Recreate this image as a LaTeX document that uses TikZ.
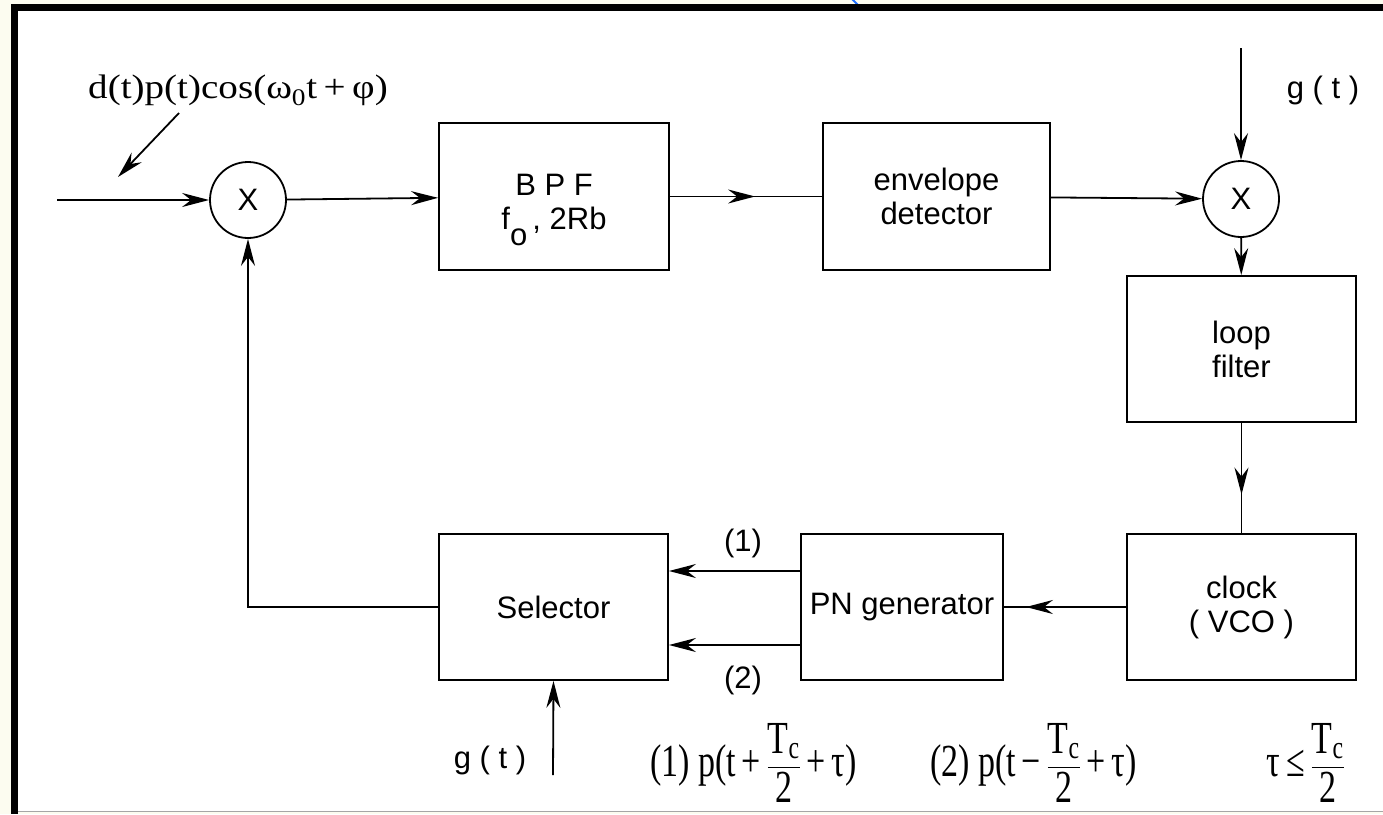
\documentclass[tikz,border=0pt]{standalone}
\usepackage{fontspec}
\usepackage{amsmath}
\setmainfont{Liberation Serif}
\newfontfamily\arialf{Liberation Sans}
\usetikzlibrary{arrows.meta,calc}
\definecolor{cream}{HTML}{FCFCF0}
\definecolor{markblue}{HTML}{1E6EFF}
\newcommand\tfr[2]{$\dfrac{\text{#1}}{\text{#2}}$}
\begin{document}
\begin{tikzpicture}[x=1pt,y=-1pt,
  ln/.style={line width=1.8pt},
  arr/.style={ln,-{Stealth[length=27pt,width=14pt,inset=9pt]}},
  blk/.style={draw,ln,inner sep=0pt,align=center,
    font=\arialf\fontsize{31}{34}\selectfont},
  mix/.style={draw,ln,circle,inner sep=0pt,minimum size=76pt,
    font=\arialf\fontsize{31}{34}\selectfont},
  lab/.style={inner sep=0pt,align=center,font=\arialf\fontsize{31}{34}\selectfont},
  tms/.style={inner sep=0pt,font=\fontsize{34}{40}\selectfont}]
% frame
\useasboundingbox (0,0) rectangle (1383,814);
\fill[cream] (0,0) rectangle (1383,814);
\fill[white] (18,11) rectangle (1383,811);
\draw[markblue,line width=2pt] (852,-1) -- (860,7);
\fill[black] (11,4) rectangle (1383,11);
\fill[black] (11,4) rectangle (18,814);
\draw[gray!70,line width=1.2pt] (18,811.5) -- (1383,811.5);
% nodes
\node[mix] (mix1) at (248,200) {X};
\node[mix] (mix2) at (1241,199) {X};
\node[blk,minimum width=230pt,minimum height=147pt] (bpf) at (554,196.5) {};
\node[lab] (bpft) at ([yshift=-7pt]bpf.center)
  {B P F\\ f\smash{\raisebox{-16pt}{o}}\,, 2Rb};
\node[blk,minimum width=227pt,minimum height=147pt] (env) at (936.5,196.5)
  {envelope\\detector};
\node[blk,minimum width=229pt,minimum height=146pt] (loop) at (1241.5,349)
  {loop\\filter};
\node[blk,minimum width=229pt,minimum height=146pt] (clock) at (1241.5,607)
  {clock\\( VCO )};
\node[blk,minimum width=202pt,minimum height=146pt] (pn) at (902,607)
  {PN generator};
\node[blk,minimum width=229pt,minimum height=146pt] (sel) at (553.5,607)
  {Selector};
% labels
\node[tms] (sig) at (238,90) {\scalebox{1.15}[1]{d(t)p(t)cos(ω\textsubscript{0}t\,+\,φ)}};
\node[lab] (g1) at (1323,90) {g ( t )};
\node[lab] (g2) at (490,760) {g ( t )};
\node[lab] (l1) at (743,543) {(1)};
\node[lab] (l2) at (743,680) {(2)};
\node[tms,anchor=west] (f1) at (650,763)
  {\scalebox{1}[1.35]{(1) p(t\,+\,\tfr{T\textsubscript{c}}{2}\,+\,τ)}};
\node[tms,anchor=west] (f2) at (930,763)
  {\scalebox{1}[1.35]{(2) p(t\,−\,\tfr{T\textsubscript{c}}{2}\,+\,τ)}};
\node[tms,anchor=east] (f3) at (1345,763)
  {\scalebox{1}[1.35]{τ\,≤\,\tfr{T\textsubscript{c}}{2}}};
% coordinates
\coordinate (in) at (57,200);
\coordinate (a1) at (179,113);
\coordinate (a2) at (118,177);
\coordinate (gtop) at (1241,48);
\coordinate (gbot) at (553,775);
% connectors
\draw[arr] (in) -- (mix1);
\draw[arr] (a1) -- (a2);
\draw[arr] (mix1) -- (bpf);
\draw[ln] (bpf.east) -- (env.west);
\draw[arr] (bpf.east) -- ($(bpf.east)!0.56!(env.west)$);
\draw[arr] (env) -- (mix2);
\draw[arr] (gtop) -- (mix2);
\draw[arr] (mix2) -- (loop);
\draw[ln] (loop.south) -- (clock.north);
\draw[arr] (loop.south) -- ($(loop.south)!0.65!(clock.north)$);
\draw[ln] (clock.west) -- (pn.east);
\draw[arr] (clock.west) -- ($(clock.west)!0.82!(pn.east)$);
\draw[arr] ($(pn.west)+(0,-36)$) -- ($(sel.east)+(0,-36)$);
\draw[arr] ($(pn.west)+(0,38)$) -- ($(sel.east)+(0,38)$);
\draw[arr] (sel.west) -| (mix1.south);
\draw[arr] (gbot) -- (sel.south);
\end{tikzpicture}
\end{document}
